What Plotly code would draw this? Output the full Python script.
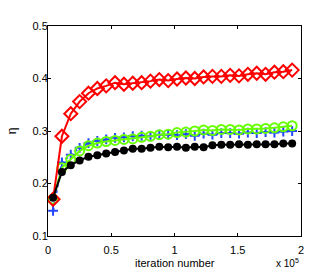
import plotly.graph_objects as go

iterations = [4000 + 7000 * k for k in range(28)]

red_vals = [0.170, 0.290, 0.333, 0.356, 0.372, 0.381, 0.386, 0.392, 0.389, 0.391,
            0.392, 0.395, 0.398, 0.396, 0.399, 0.401, 0.400, 0.403, 0.404, 0.404,
            0.406, 0.405, 0.408, 0.410, 0.408, 0.412, 0.413, 0.416]
green_vals = [0.170, 0.230, 0.246, 0.262, 0.272, 0.277, 0.280, 0.282, 0.284, 0.285,
              0.288, 0.290, 0.293, 0.294, 0.297, 0.298, 0.300, 0.302, 0.301, 0.303,
              0.303, 0.302, 0.304, 0.304, 0.305, 0.306, 0.308, 0.310]
blue_vals = [0.148, 0.240, 0.255, 0.268, 0.277, 0.281, 0.284, 0.287, 0.288, 0.290,
             0.291, 0.290, 0.293, 0.293, 0.292, 0.294, 0.291, 0.295, 0.293, 0.296,
             0.296, 0.295, 0.297, 0.296, 0.298, 0.297, 0.299, 0.300]
black_vals = [0.173, 0.222, 0.235, 0.244, 0.251, 0.254, 0.257, 0.260, 0.263, 0.266,
              0.266, 0.268, 0.270, 0.269, 0.270, 0.268, 0.270, 0.269, 0.273, 0.274,
              0.274, 0.275, 0.274, 0.275, 0.275, 0.275, 0.276, 0.276]

x_tick_vals = [0, 50000, 100000, 150000, 200000]
x_tick_text = ["0", "0.5", "1", "1.5", "2"]
y_tick_vals = [0.1, 0.2, 0.3, 0.4, 0.5]

FONT = "Liberation Sans, Arial, sans-serif"

fig = go.Figure()
fig.add_trace(go.Scatter(
    x=iterations, y=blue_vals, mode="lines+markers",
    line=dict(color="#2244ff", width=2, dash="dot"),
    marker=dict(symbol="cross-thin", size=7, line=dict(color="#2244ff", width=2)),
))
fig.add_trace(go.Scatter(
    x=iterations, y=green_vals, mode="lines+markers",
    line=dict(color="#66ff00", width=2),
    marker=dict(symbol="circle-open", size=9, line=dict(color="#66ff00", width=2)),
))
fig.add_trace(go.Scatter(
    x=iterations, y=red_vals, mode="lines+markers",
    line=dict(color="#ff0000", width=2),
    marker=dict(symbol="diamond-open", size=10, line=dict(color="#ff0000", width=2)),
))
fig.add_trace(go.Scatter(
    x=iterations, y=black_vals, mode="lines+markers",
    line=dict(color="#000000", width=2),
    marker=dict(symbol="circle", size=8, color="#000000"),
))

fig.update_layout(
    width=332, height=273,
    margin=dict(l=48, r=31, t=26, b=37),
    paper_bgcolor="white", plot_bgcolor="white",
    showlegend=False,
    font=dict(family=FONT, size=11, color="black"),
    xaxis=dict(
        range=[0, 200000], tickvals=x_tick_vals, ticktext=x_tick_text,
        ticks="inside", ticklen=3, tickcolor="black", mirror="allticks",
        showline=True, linecolor="black", linewidth=1, showgrid=False,
        zeroline=False, tickfont=dict(size=11), ticklabelstandoff=4,
        automargin=False,
    ),
    yaxis=dict(
        range=[0.1, 0.5], tickvals=y_tick_vals, tickformat=".1f",
        ticks="inside", ticklen=3, tickcolor="black", mirror="allticks",
        showline=True, linecolor="black", linewidth=1, showgrid=False,
        zeroline=False, tickfont=dict(size=11), ticklabelstandoff=-3,
        automargin=False,
        title=dict(text="η", font=dict(size=12), standoff=13),
    ),
    annotations=[
        dict(
            text="iteration number", xref="paper", yref="paper",
            x=0.5, y=-0.128, xanchor="center", yanchor="middle",
            showarrow=False, font=dict(size=11),
        ),
        dict(
            text="x 10<sup>5</sup>", xref="paper", yref="paper",
            x=0.945, y=-0.168, xanchor="center", yanchor="bottom",
            showarrow=False, font=dict(size=10),
        ),
    ],
)

fig.write_html("out.html", config={"displayModeBar": False},
               post_script="document.body.style.margin='0';")
